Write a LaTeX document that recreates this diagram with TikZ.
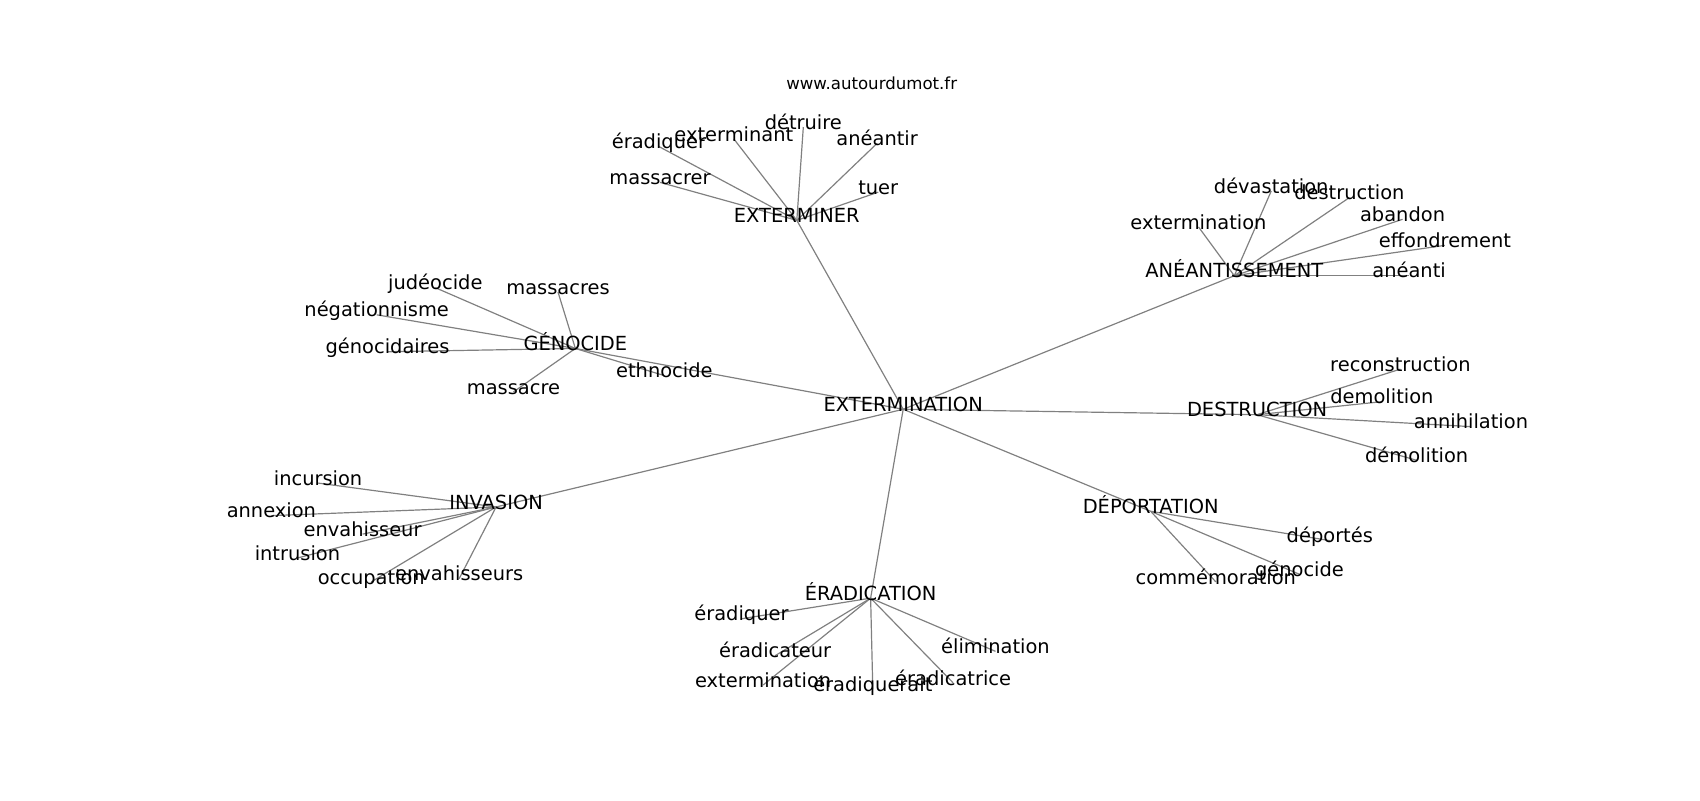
\documentclass[tikz,border=0pt]{standalone}
\usepackage{fontspec}
\setmainfont{DejaVu Sans}
\usetikzlibrary{backgrounds}

\begin{document}
\begin{tikzpicture}[x=1pt, y=-1pt,
    word/.style = {inner sep=0pt, text height=0.4em, text depth=0pt, font=\fontsize{17.9}{20}\selectfont},
    link/.style = {draw=gray, line width=1.1pt}]
    \useasboundingbox (0,-4) rectangle (1566,733);

    \node[inner sep=0pt, text height=0.4em, text depth=0pt, font=\fontsize{15.3}{18}\selectfont] (site) at (803,76) {www.autourdumot.fr};

    \node[word] (ext) at (832,373) {EXTERMINATION};

    \node[word] (exr)  at (734,199) {EXTERMINER};
    \node[word] (exr1) at (608,164) {massacrer};
    \node[word] (exr2) at (607,131) {éradiquer};
    \node[word] (exr3) at (676,124) {exterminant};
    \node[word] (exr4) at (740,113) {détruire};
    \node[word] (exr5) at (808,128) {anéantir};
    \node[word] (exr6) at (809,173) {tuer};

    \node[word] (geno)  at (530,317) {GÉNOCIDE};
    \node[word] (geno1) at (401,261) {judéocide};
    \node[word] (geno2) at (514,265) {massacres};
    \node[word] (geno3) at (347,286) {négationnisme};
    \node[word] (geno4) at (357,320) {génocidaires};
    \node[word] (geno5) at (473,357) {massacre};
    \node[word] (geno6) at (612,342) {ethnocide};

    \node[word] (anea)  at (1137,250) {ANÉANTISSEMENT};
    \node[word] (anea1) at (1171,172) {dévastation};
    \node[word] (anea2) at (1243,178) {destruction};
    \node[word] (anea3) at (1104,205) {extermination};
    \node[word] (anea4) at (1292,198) {abandon};
    \node[word] (anea5) at (1331,222) {effondrement};
    \node[word] (anea6) at (1298,250) {anéanti};

    \node[word] (dest)  at (1158,378) {DESTRUCTION};
    \node[word] (dest1) at (1290,336) {reconstruction};
    \node[word] (dest2) at (1273,366) {demolition};
    \node[word] (dest3) at (1355,389) {annihilation};
    \node[word] (dest4) at (1305,420) {démolition};

    \node[word] (depo)  at (1060,467) {DÉPORTATION};
    \node[word] (depo1) at (1225,494) {déportés};
    \node[word] (depo2) at (1197,525) {génocide};
    \node[word] (depo3) at (1120,532) {commémoration};

    \node[word] (erad)  at (802,547) {ÉRADICATION};
    \node[word] (erad1) at (683,566) {éradiquer};
    \node[word] (erad2) at (714,600) {éradicateur};
    \node[word] (erad3) at (703,627) {extermination};
    \node[word] (erad4) at (804,631) {éradiquerait};
    \node[word] (erad5) at (878,625) {éradicatrice};
    \node[word] (erad6) at (917,596) {élimination};

    \node[word] (inva)  at (457,463) {INVASION};
    \node[word] (inva1) at (293,441) {incursion};
    \node[word] (inva2) at (250,471) {annexion};
    \node[word] (inva3) at (334,488) {envahisseur};
    \node[word] (inva4) at (274,510) {intrusion};
    \node[word] (inva5) at (342,532) {occupation};
    \node[word] (inva6) at (423,529) {envahisseurs};

    \begin{pgfonlayer}{background}
        \foreach \hub in {exr, geno, anea, dest, depo, erad, inva}
            \draw[link] (ext.center) -- (\hub.center);
        \foreach \i in {1,...,6} {
            \draw[link] (exr.center) -- (exr\i.center);
            \draw[link] (geno.center) -- (geno\i.center);
            \draw[link] (anea.center) -- (anea\i.center);
            \draw[link] (erad.center) -- (erad\i.center);
            \draw[link] (inva.center) -- (inva\i.center);
        }
        \foreach \i in {1,...,4}
            \draw[link] (dest.center) -- (dest\i.center);
        \foreach \i in {1,...,3}
            \draw[link] (depo.center) -- (depo\i.center);
    \end{pgfonlayer}

\end{tikzpicture}
\end{document}
